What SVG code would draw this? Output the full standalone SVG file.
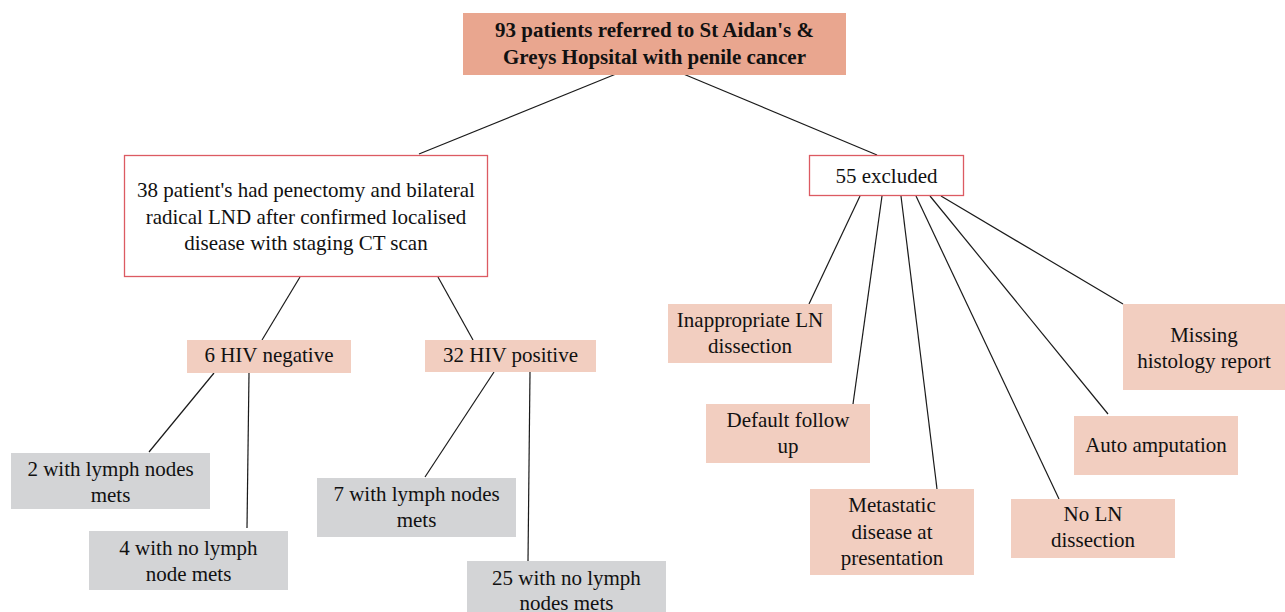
<svg xmlns="http://www.w3.org/2000/svg" width="1285" height="612" viewBox="0 0 1285 612">
<style>
text{font-family:"Liberation Serif","Times New Roman",serif;font-size:21px;fill:#111;text-anchor:middle}
.b{font-weight:bold}
.head{fill:#E9A68F}
.out{fill:#fff;stroke:#DC5A62;stroke-width:1.3}
.pink{fill:#F2CEC0}
.grey{fill:#D3D4D6}
.c line{stroke:#1a1a1a;stroke-width:1.2}
</style>
<rect width="1285" height="612" fill="#fff"/>
<g class="c" id="connectors">
<line x1="616" y1="74" x2="419" y2="154"/>
<line x1="681" y1="73" x2="877" y2="155"/>
<line x1="300" y1="277" x2="262" y2="340"/>
<line x1="438" y1="277" x2="473" y2="340"/>
<line x1="214" y1="373" x2="149" y2="452"/>
<line x1="249" y1="373" x2="247" y2="528"/>
<line x1="494" y1="372" x2="425" y2="477"/>
<line x1="530" y1="372" x2="528" y2="561"/>
<line x1="860" y1="196" x2="809" y2="304"/>
<line x1="882" y1="196" x2="853" y2="404"/>
<line x1="901" y1="196" x2="937" y2="489"/>
<line x1="916" y1="196" x2="1059" y2="499"/>
<line x1="930" y1="196" x2="1108" y2="414"/>
<line x1="941" y1="196" x2="1123" y2="304"/>
</g>
<g id="n-referred">
<rect class="head" x="463" y="13" width="383" height="62"/>
<text class="b" x="654.5" y="37">93 patients referred to St Aidan's &amp;</text>
<text class="b" x="654.5" y="64">Greys Hopsital with penile cancer</text>
</g>
<g id="n-38">
<rect class="out" x="124.5" y="155.5" width="363" height="121"/>
<text x="306" y="197">38 patient's had penectomy and bilateral</text>
<text x="306" y="223.5">radical LND after confirmed localised</text>
<text x="306" y="250">disease with staging CT scan</text>
</g>
<g id="n-excluded">
<rect class="out" x="809.5" y="155.5" width="154" height="40"/>
<text x="886.5" y="182.5">55 excluded</text>
</g>
<g id="n-hivneg">
<rect class="pink" x="187" y="340" width="164" height="33"/>
<text x="269" y="362">6 HIV negative</text>
</g>
<g id="n-hivpos">
<rect class="pink" x="425" y="340" width="171" height="32"/>
<text x="510.5" y="362">32 HIV positive</text>
</g>
<g id="n-2">
<rect class="grey" x="11" y="453" width="199" height="56"/>
<text x="110.5" y="476">2 with lymph nodes</text>
<text x="110.5" y="502">mets</text>
</g>
<g id="n-4">
<rect class="grey" x="89" y="531" width="199" height="59"/>
<text x="188.5" y="555">4 with no lymph</text>
<text x="188.5" y="581">node mets</text>
</g>
<g id="n-7">
<rect class="grey" x="317" y="478" width="199" height="59"/>
<text x="416.5" y="501">7 with lymph nodes</text>
<text x="416.5" y="527">mets</text>
</g>
<g id="n-25">
<rect class="grey" x="467" y="561" width="199" height="60"/>
<text x="566.5" y="584.5">25 with no lymph</text>
<text x="566.5" y="609.5">nodes mets</text>
</g>
<g id="n-inappropriate">
<rect class="pink" x="668" y="304" width="164" height="59"/>
<text x="750" y="327">Inappropriate LN</text>
<text x="750" y="353">dissection</text>
</g>
<g id="n-default">
<rect class="pink" x="706" y="404" width="164" height="59"/>
<text x="788" y="427">Default follow</text>
<text x="788" y="453">up</text>
</g>
<g id="n-metastatic">
<rect class="pink" x="810" y="489" width="164" height="86"/>
<text x="892" y="512">Metastatic</text>
<text x="892" y="538.5">disease at</text>
<text x="892" y="564.5">presentation</text>
</g>
<g id="n-noln">
<rect class="pink" x="1011" y="499" width="164" height="59"/>
<text x="1093" y="520.5">No LN</text>
<text x="1093" y="547">dissection</text>
</g>
<g id="n-auto">
<rect class="pink" x="1074" y="416" width="164" height="59"/>
<text x="1156" y="452">Auto amputation</text>
</g>
<g id="n-missing">
<rect class="pink" x="1123" y="304" width="162" height="86"/>
<text x="1204" y="341.5">Missing</text>
<text x="1204" y="367.5">histology report</text>
</g>
</svg>
